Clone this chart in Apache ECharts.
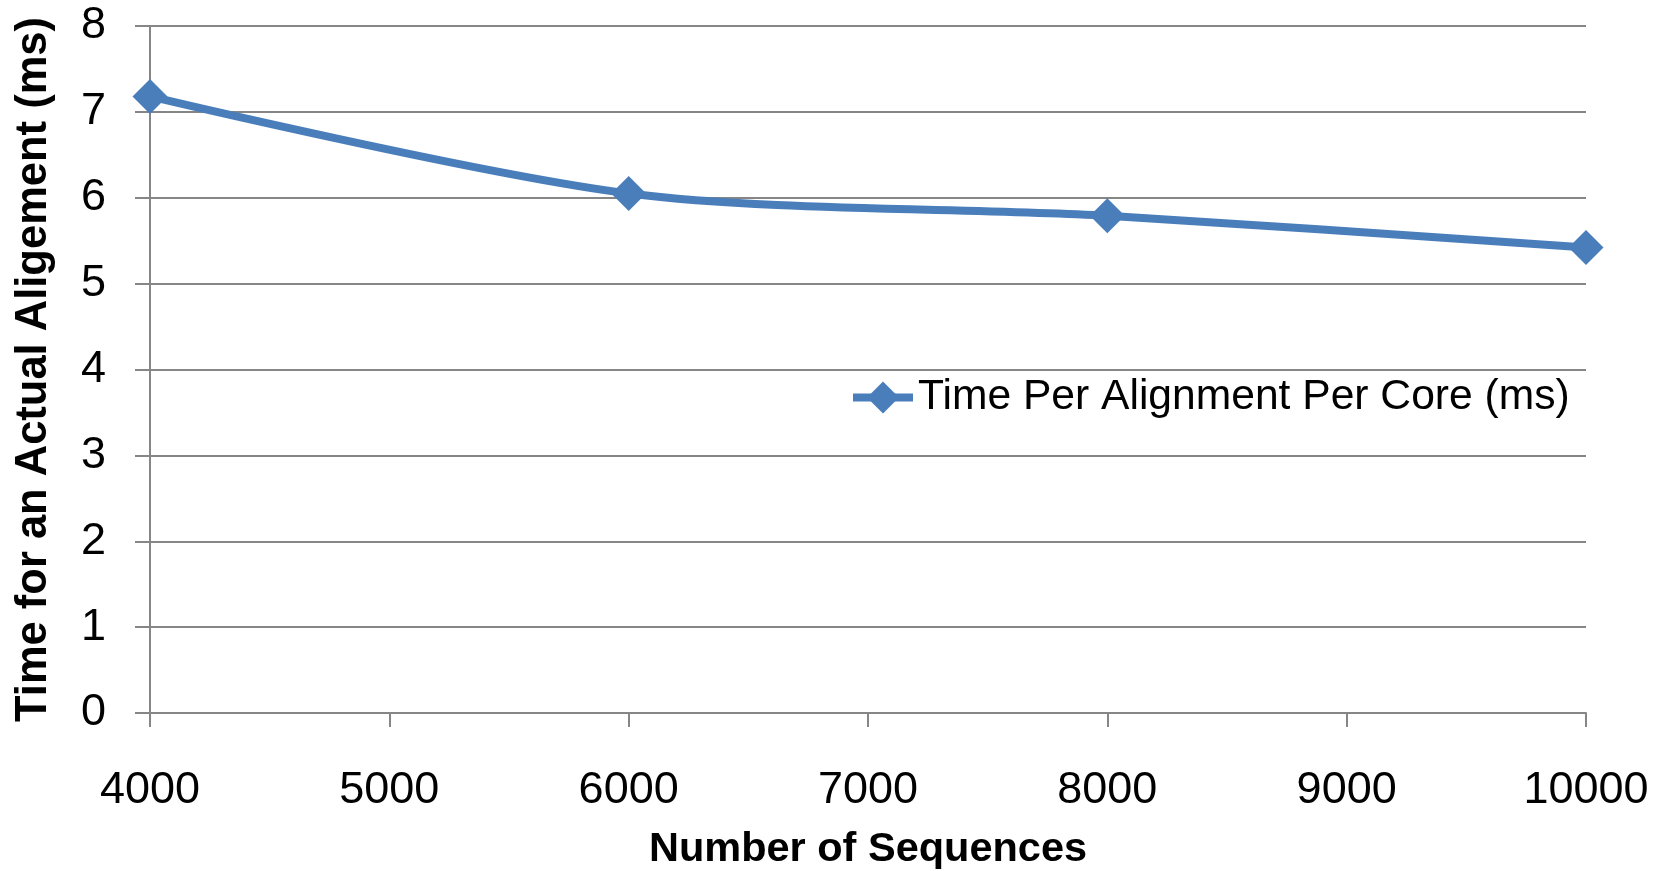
<!DOCTYPE html>
<html>
<head>
<meta charset="utf-8">
<script src="https://cdn.jsdelivr.net/npm/echarts@6/dist/echarts.min.js"></script>
<style>html,body{margin:0;padding:0;background:#fff;}#c{width:1669px;height:871px;}</style>
</head>
<body>
<div id="c"></div>
<script>
var sequences = [4000, 6000, 8000, 10000];
var timePerAlignment = [7.18, 6.05, 5.79, 5.42];
var seriesName = 'Time Per Alignment Per Core (ms)';
var xTitle = 'Number of Sequences';
var yTitle = 'Time for an Actual Aligement (ms)';

var FONT = '"Liberation Sans", Arial, sans-serif';
var chart = echarts.init(document.getElementById('c'), null, {renderer: 'canvas'});
chart.setOption({
  animation: false,
  backgroundColor: '#fff',
  grid: {left: 150, right: 83, top: 26, bottom: 158, outerBoundsMode: 'none', containLabel: false},
  legend: {
    data: [seriesName],
    left: 844, top: 371,
    itemWidth: 60, itemHeight: 40,
    itemGap: 0,
    lineStyle: {width: 8, color: '#4A7EBB'},
    textStyle: {fontFamily: FONT, fontSize: 42.6, color: '#000', padding: [0, 0, 0, 0]}
  },
  xAxis: {
    type: 'value', min: 4000, max: 10000, interval: 1000,
    name: xTitle, nameLocation: 'middle', nameGap: 116,
    nameTextStyle: {fontFamily: FONT, fontSize: 41.5, fontWeight: 'bold', color: '#000'},
    axisLine: {show: true, lineStyle: {color: '#868686', width: 2}},
    axisTick: {show: true, length: 14, lineStyle: {color: '#868686', width: 2}},
    axisLabel: {fontFamily: FONT, fontSize: 45, color: '#000', margin: 55,
      formatter: function(v){ return String(v); }},
    splitLine: {show: false}
  },
  yAxis: {
    type: 'value', min: 0, max: 8, interval: 1,
    name: yTitle, nameLocation: 'middle', nameGap: 94,
    nameTextStyle: {fontFamily: FONT, fontSize: 43.5, fontWeight: 'bold', color: '#000'},
    axisLine: {show: true, lineStyle: {color: '#868686', width: 2}},
    axisTick: {show: true, length: 15, lineStyle: {color: '#868686', width: 2}},
    axisLabel: {fontFamily: FONT, fontSize: 45, color: '#000', margin: 44},
    splitLine: {show: true, lineStyle: {color: '#868686', width: 2}}
  },
  series: [{
    name: seriesName,
    type: 'line',
    smooth: 0.3,
    data: sequences.map(function(x, i){ return [x, timePerAlignment[i]]; }),
    symbol: 'diamond',
    symbolSize: 35,
    lineStyle: {color: '#4A7EBB', width: 8},
    itemStyle: {color: '#4A7EBB'}
  }]
});
</script>
</body>
</html>
